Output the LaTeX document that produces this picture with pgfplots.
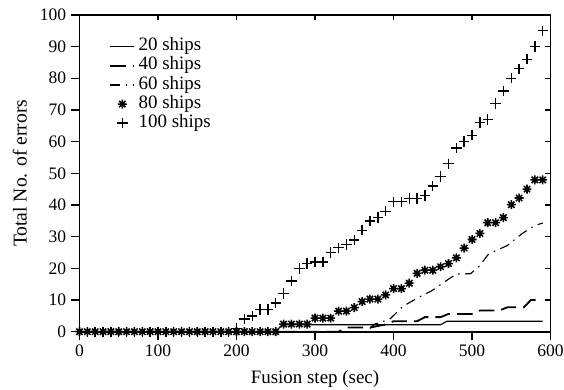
\documentclass[border=0pt]{standalone}
\usepackage{pgfplots}
\pgfplotsset{compat=1.18}
\usepackage{fontspec}
\setmainfont{Liberation Serif}
\pgfdeclareplotmark{bstar}{%
 \pgfpathmoveto{\pgfqpoint{0pt}{\pgfplotmarksize}}\pgfpathlineto{\pgfqpoint{0pt}{-\pgfplotmarksize}}%
 \pgfpathmoveto{\pgfqpoint{\pgfplotmarksize}{0pt}}\pgfpathlineto{\pgfqpoint{-\pgfplotmarksize}{0pt}}%
 \pgfpathmoveto{\pgfqpointpolar{45}{\pgfplotmarksize}}\pgfpathlineto{\pgfqpointpolar{225}{\pgfplotmarksize}}%
 \pgfpathmoveto{\pgfqpointpolar{135}{\pgfplotmarksize}}\pgfpathlineto{\pgfqpointpolar{315}{\pgfplotmarksize}}%
 \pgfusepathqstroke
 \pgfpathcircle{\pgfpointorigin}{0.55\pgfplotmarksize}\pgfusepathqfill
}
\begin{document}
\begin{tikzpicture}
\begin{axis}[
  scale only axis,
  width=336pt, height=226pt,
  xmin=0, xmax=600, ymin=0, ymax=100,
  xtick={0,100,...,600}, ytick={0,10,...,100},
  xtick pos=left, ytick pos=left,
  tick align=outside,
  major tick length=6pt,
  axis line style={line width=1.2pt},
  every tick/.style={black, line width=1pt},
  tick label style={font=\fontsize{12.5}{14}\selectfont},
  /pgf/number format/assume math mode=true,
  xlabel={Fusion step (sec)},
  ylabel={Total No. of errors},
  xlabel style={font=\fontsize{13.5}{15}\selectfont, at={(rel axis cs:0.5,0)}, anchor=base, yshift=-36.9pt},
  ylabel style={font=\fontsize{14}{15}\selectfont, at={(rel axis cs:0,0.5)}, anchor=center, yshift=42.5pt},
  clip=false,
  legend style={at={(rel axis cs:0.063,0.93)}, anchor=north west, draw=none, fill=none,
    font=\fontsize{13.5}{13.5}\selectfont, row sep=0pt, column sep=2pt, inner sep=0pt,
    nodes={inner sep=0.5pt, text height=9.2pt, text depth=3.4pt}},
  legend cell align=left,
]
\addplot[black, line width=0.8pt] coordinates {
(0,0)(250,0)(258,2.2)(460,2.2)(468,3.3)(590,3.3)};
\addlegendentry{20 ships}
\addplot[black, line width=1.3pt, dash pattern=on 11pt off 5pt] coordinates {
(0,0)(330,0)(340,1.3)(370,1.3)(390,2.3)(400,3.3)(430,3.3)(440,4.6)(460,4.6)(470,5.6)(500,5.6)(510,6.7)(535,6.7)(545,7.7)(566,7.7)(575,10)(590,10.1)};
\addlegendentry{40 ships}
\addplot[black, line width=0.8pt, dash pattern=on 7pt off 4pt on 1pt off 4pt] coordinates {
(0,0)(365,0)(376,2.4)(395,3.9)(412,8)(431,10.7)(448,12.8)(463,15.4)(480,18.2)(498,18.3)(509,20.6)(520,24.2)(530,25.5)(545,27.2)(551,28.4)(564,31)(579,33.4)(590,34.3)};
\addlegendentry{60 ships}
\addplot[black, only marks, mark=bstar, mark size=3.2pt, mark options={line width=1.1pt}] coordinates {
(0,0)(10,0)(20,0)(30,0)(40,0)(50,0)(60,0)(70,0)(80,0)(90,0)(100,0)(110,0)(120,0)(130,0)(140,0)(150,0)(160,0)(170,0)(180,0)(190,0)(200,0)(210,0)(220,0)(230,0)(240,0)(250,0)
(260,2.4)(270,2.4)(280,2.4)(290,2.4)(300,4.3)(310,4.3)(320,4.3)(330,6.5)(340,6.5)(350,7.6)(360,9.5)(370,10.3)(380,10.3)(390,11.6)(400,13.6)(410,13.6)(420,15.3)(430,18.4)(440,19.4)(450,19.4)(460,20.5)(470,21.5)(480,23.3)(490,26.4)(500,29.1)(510,31)(520,34.4)(530,34.4)(540,36)(550,40.1)(560,42.2)(570,45)(580,47.9)(590,47.9)};
\addlegendentry{80 ships}
\addplot[black, only marks, mark=+, mark size=3.7pt, mark options={line width=1pt}] coordinates {
(0,0)(10,0)(20,0)(30,0)(40,0)(50,0)(60,0)(70,0)(80,0)(90,0)(100,0)(110,0)(120,0)(130,0)(140,0)(150,0)(160,0)(170,0)(180,0)(190,0)
(200,1)(210,4)(220,5)(230,7)(240,7)(250,9)(260,12)(270,16)(280,20)(290,21.5)(300,22)(310,22)(320,25)(330,26.5)(340,27.5)(350,29)(360,32)(370,35)(380,36)(390,38)(400,41)(410,41)(420,42)(430,42)(440,43)(450,46)(460,49)(470,53)(480,58)(490,60)(500,62)(510,66)(520,67)(530,72)(540,76)(550,80)(560,83)(570,86)(580,90)(590,95)};
\addlegendentry{100 ships}
\coordinate (A) at (rel axis cs:0,0);
\coordinate (B) at (rel axis cs:1,1);
\end{axis}
\begin{axis}[
  scale only axis,
  width=336pt, height=226pt,
  xmin=0, xmax=600, ymin=0, ymax=100,
  xtick={0,100,...,600}, ytick={0,10,...,100},
  xtick pos=right, ytick pos=right,
  tick align=inside,
  major tick length=4pt,
  axis line style={line width=1.2pt},
  every tick/.style={black, line width=1pt},
  xticklabels={}, yticklabels={},
]
\end{axis}
\pgfresetboundingbox
\path ([shift={(-56.7pt,-41.1pt)}]A) rectangle ([shift={(9.6pt,10.6pt)}]B);
\end{tikzpicture}
\end{document}
